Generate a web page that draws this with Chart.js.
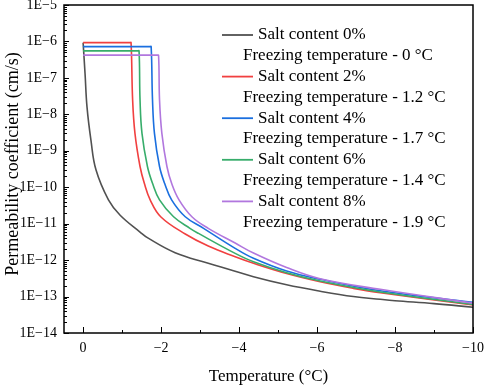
<!DOCTYPE html>
<html>
<head>
<meta charset="utf-8">
<script src="https://cdn.jsdelivr.net/npm/chart.js@4.4.0/dist/chart.umd.min.js"></script>
<style>
  body { margin: 0; background: #fff; }
  #wrap { width: 484px; height: 385px; }
</style>
</head>
<body>
<div id="wrap"><canvas id="myChart" width="484" height="385"></canvas></div>
<script>
// Valores (temperatura en °C, permeabilidad en cm/s)
const temp0 = [0, -0.05, -0.10, -0.20, -0.33, -0.65, -0.95, -1.46, -1.67, -2.36, -3.21, -3.73, -4.37, -5.22, -6.08, -6.93, -7.62, -8.00, -9.00, -10];
const perm0 = [9.3e-7, 1.3e-7, 1.6e-8, 2.0e-9, 3.0e-10, 4.5e-11, 1.7e-11, 5.9e-12, 4.0e-12, 1.6e-12, 8.2e-13, 5.6e-13, 3.5e-13, 2.1e-13, 1.4e-13, 1.0e-13, 8.4e-14, 7.7e-14, 6.4e-14, 5.1e-14];

const temp2 = [0, -1.20, -1.23, -1.27, -1.33, -1.46, -1.57, -1.72, -1.99, -2.62, -3.21, -3.90, -4.37, -5.22, -6.08, -6.93, -7.62, -10];
const perm2 = [9.3e-7, 9.3e-7, 9.3e-7, 2.5e-8, 3.0e-9, 3.7e-10, 1.28e-10, 4.5e-11, 1.55e-11, 5.2e-12, 2.43e-12, 1.24e-12, 8.2e-13, 4.3e-13, 2.55e-13, 1.68e-13, 1.27e-13, 5.9e-14];

const temp4 = [0, -1.71, -1.745, -1.78, -1.83, -1.96, -2.09, -2.27, -2.62, -3.09, -3.90, -4.37, -5.22, -6.08, -7.62, -10];
const perm4 = [7.2e-7, 7.2e-7, 7.2e-7, 2.5e-8, 3.0e-9, 3.7e-10, 1.28e-10, 4.5e-11, 1.55e-11, 7.45e-12, 2.1e-12, 1.12e-12, 5.0e-13, 2.97e-13, 1.44e-13, 6.9e-14];

const temp6 = [0, -1.40, -1.435, -1.46, -1.51, -1.65, -1.78, -1.96, -2.32, -2.74, -2.96, -3.90, -4.37, -5.22, -6.08, -7.62, -10];
const perm6 = [5.5e-7, 5.5e-7, 5.5e-7, 2.5e-8, 3.0e-9, 3.7e-10, 1.28e-10, 4.5e-11, 1.55e-11, 7.45e-12, 5.4e-12, 1.53e-12, 9.0e-13, 4.5e-13, 2.67e-13, 1.33e-13, 6.1e-14];

const temp8 = [0, -1.90, -1.935, -1.96, -2.02, -2.15, -2.27, -2.46, -2.79, -3.21, -3.90, -4.37, -5.22, -6.08, -7.62, -10];
const perm8 = [4.2e-7, 4.2e-7, 4.2e-7, 2.5e-8, 3.0e-9, 3.7e-10, 1.28e-10, 4.5e-11, 1.55e-11, 7.45e-12, 2.94e-12, 1.56e-12, 6.25e-13, 3.08e-13, 1.58e-13, 6.6e-14];

const etiquetasSal = ['Salt content 0%', 'Salt content 2%', 'Salt content 4%', 'Salt content 6%', 'Salt content 8%'];
const etiquetasCongelacion = ['Freezing temperature - 0 \u00B0C', 'Freezing temperature - 1.2 \u00B0C', 'Freezing temperature - 1.7 \u00B0C', 'Freezing temperature - 1.4 \u00B0C', 'Freezing temperature - 1.9 \u00B0C'];
const colores = ['#515151', '#F14040', '#1A6FDF', '#37AD6B', '#B177DE'];

const ticksX = [0, -2, -4, -6, -8, -10];
const ticksXMenores = [-1, -3, -5, -7, -9];
const ticksY = [1e-5, 1e-6, 1e-7, 1e-8, 1e-9, 1e-10, 1e-11, 1e-12, 1e-13, 1e-14];

const series = [[temp0, perm0], [temp2, perm2], [temp4, perm4], [temp6, perm6], [temp8, perm8]];
const fuente = "'Liberation Serif', 'Times New Roman', serif";

// Marco, marcas hacia dentro y titulo del eje Y
const marcoEjes = {
    id: 'marcoEjes',
    afterDraw(chart) {
        const ctx = chart.ctx;
        const a = chart.chartArea;
        const x = chart.scales.x;
        const y = chart.scales.y;
        ctx.save();
        ctx.strokeStyle = '#000';
        ctx.lineWidth = 1;
        ticksY.forEach(function(v) {
            for (let m = 1; m <= 9; m++) {
                const val = v * m;
                if (val > 1.0001e-5) break;
                const py = Math.round(y.getPixelForValue(val)) + 0.5;
                const largo = m === 1 ? 5 : 3;
                ctx.beginPath();
                ctx.moveTo(a.left, py);
                ctx.lineTo(a.left + largo, py);
                ctx.stroke();
            }
        });
        ticksX.forEach(function(v) {
            const px = Math.round(x.getPixelForValue(v)) + 0.5;
            ctx.beginPath();
            ctx.moveTo(px, a.bottom);
            ctx.lineTo(px, a.bottom - 6);
            ctx.stroke();
        });
        ticksXMenores.forEach(function(v) {
            const px = Math.round(x.getPixelForValue(v)) + 0.5;
            ctx.beginPath();
            ctx.moveTo(px, a.bottom);
            ctx.lineTo(px, a.bottom - 3);
            ctx.stroke();
        });
        ctx.lineWidth = 1.5;
        ctx.strokeRect(a.left, a.top, a.right - a.left, a.bottom - a.top);

        ctx.translate(13, (a.top + a.bottom) / 2 - 5);
        ctx.rotate(-Math.PI / 2);
        ctx.font = '18px ' + fuente;
        ctx.fillStyle = '#000';
        ctx.textAlign = 'center';
        ctx.textBaseline = 'middle';
        ctx.fillText('Permeability coefficient (cm/s)', 0, 0);
        ctx.restore();
    }
};

// Leyenda con dos lineas por serie
const leyenda = {
    id: 'leyenda',
    afterDraw(chart) {
        const ctx = chart.ctx;
        ctx.save();
        ctx.font = '17px ' + fuente;
        ctx.fillStyle = '#000';
        ctx.textBaseline = 'middle';
        ctx.textAlign = 'left';
        for (let i = 0; i < etiquetasSal.length; i++) {
            const yl = 35 + i * 41.6;
            ctx.strokeStyle = colores[i];
            ctx.lineWidth = 1.8;
            ctx.beginPath();
            ctx.moveTo(222, yl);
            ctx.lineTo(253, yl);
            ctx.stroke();
            ctx.fillText(etiquetasSal[i], 258, yl);
            ctx.fillText(etiquetasCongelacion[i], 243, yl + 20.8);
        }
        ctx.restore();
    }
};

const canvas = document.getElementById('myChart');
new Chart(canvas.getContext('2d'), {
    type: 'line',
    data: {
        datasets: series.map(function(s, i) {
            return {
                label: etiquetasSal[i],
                data: s[0].map(function(t, k) { return { x: t, y: s[1][k] }; }),
                borderColor: colores[i],
                backgroundColor: 'transparent',
                borderWidth: 1.6,
                pointRadius: 0,
                tension: 0.4,
                order: 4 - i
            };
        })
    },
    options: {
        responsive: false,
        animation: false,
        layout: { padding: { top: 5, right: 11, left: 0, bottom: 0 } },
        plugins: { legend: { display: false }, tooltip: { enabled: false } },
        scales: {
            x: {
                type: 'linear',
                reverse: true,
                min: -10,
                max: 0.49,
                afterBuildTicks: function(scale) { scale.ticks = ticksX.map(function(v) { return { value: v }; }); },
                afterFit: function(scale) {
                    scale.height = 52;
                    scale.paddingLeft = 0; scale.paddingRight = 0;
                    scale.paddingTop = 0; scale.paddingBottom = 0;
                },
                grid: { display: false, drawTicks: false },
                border: { display: false },
                ticks: {
                    padding: 7,
                    color: '#000',
                    font: { family: fuente, size: 14 },
                    maxRotation: 0,
                    callback: function(v) { return v === 0 ? '0' : '\u2212' + Math.abs(v); }
                },
                title: {
                    display: true,
                    text: 'Temperature (\u00B0C)',
                    color: '#000',
                    font: { family: fuente, size: 17, lineHeight: 1 },
                    padding: { top: 0, bottom: 0 }
                }
            },
            y: {
                type: 'logarithmic',
                min: 1e-14,
                max: 1e-5,
                afterBuildTicks: function(scale) { scale.ticks = ticksY.map(function(v) { return { value: v }; }); },
                afterFit: function(scale) {
                    scale.width = 64;
                    scale.paddingLeft = 0; scale.paddingRight = 0;
                    scale.paddingTop = 0; scale.paddingBottom = 0;
                },
                grid: { display: false, drawTicks: false },
                border: { display: false },
                ticks: {
                    padding: 7,
                    color: '#000',
                    font: { family: fuente, size: 14 },
                    callback: function(v) { return '1E\u2212' + (-Math.round(Math.log10(v))); }
                }
            }
        }
    },
    plugins: [marcoEjes, leyenda]
});
</script>
</body>
</html>
